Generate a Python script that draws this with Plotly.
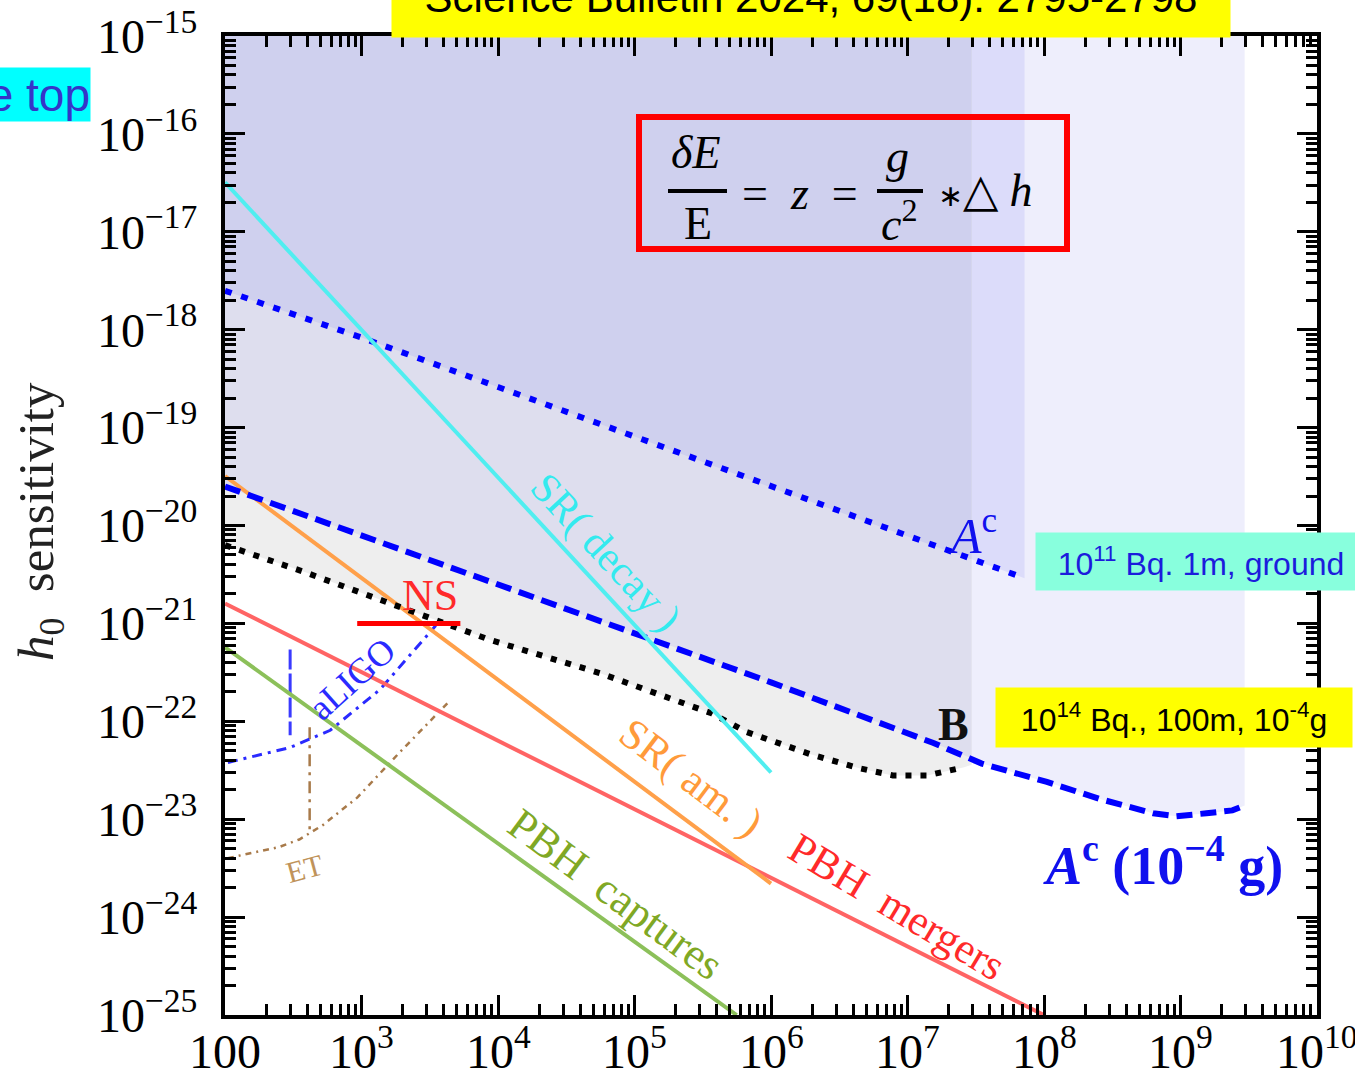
import plotly.graph_objects as go

# ---------------- data (frequency in Hz, strain h0) ----------------
sr_decay_f = [1e2, 1e6]
sr_decay_h = [3.2e-17, 3.0e-23]

sr_amp_f = [1e2, 1e6]
sr_amp_h = [3.2e-20, 2.2e-24]

pbh_merg_f = [1e2, 1e8]
pbh_merg_h = [1.6e-21, 1.0e-25]

pbh_capt_f = [1e2, 5.6e5]
pbh_capt_h = [5.7e-22, 1.0e-25]

ac_f = [1e2, 1e3, 1e4, 1e5, 1e6, 1e7, 7.2e7]
ac_h = [2.5e-18, 8.3e-19, 2.6e-19, 8.1e-20, 2.45e-20, 7.8e-21, 2.9e-21]

ac4_f = [1e2, 1e3, 5.1e3, 1e5, 2.6e5, 1e6, 1.55e7, 3.5e7, 1.05e8, 2.6e8, 6.3e8, 9.3e8, 1.55e9, 2.4e9, 2.95e9]
ac4_h = [2.5e-20, 7.9e-21, 3.5e-21, 7.9e-22, 5.0e-22, 2.5e-22, 6.0e-23, 3.7e-23, 2.4e-23, 1.6e-23, 1.15e-23, 1.07e-23, 1.15e-23, 1.23e-23, 1.38e-23]

b_f = [1e2, 3.7e2, 8.7e3, 5.6e4, 3.7e5, 6.6e5, 1.95e6, 4.5e6, 7.8e6, 1.4e7, 2.6e7]
b_h = [6.3e-21, 3.4e-21, 6.8e-22, 3.1e-22, 1.2e-22, 7.8e-23, 4.6e-23, 3.3e-23, 2.8e-23, 2.8e-23, 3.4e-23]

ns_f = [9.3e2, 5.3e3]
ns_h = [1.0e-21, 1.0e-21]

aligo_f = [1.05e2, 3.0e2, 5.9e2, 1.36e3, 3.5e3]
aligo_h = [3.8e-23, 5.4e-23, 8.1e-23, 2.1e-22, 9.5e-22]
aligo_wall_f = [3.0e2, 3.0e2]
aligo_wall_h = [5.4e-22, 7.2e-23]

et_f = [1.05e2, 2.5e2, 3.5e2, 5.2e2, 9.3e2, 1.9e3, 4.3e3]
et_h = [4.0e-24, 5.2e-24, 6.2e-24, 8.7e-24, 1.66e-23, 4.8e-23, 1.55e-22]
et_wall_f = [4.17e2, 4.17e2]
et_wall_h = [8.7e-23, 7.8e-24]

# shading edge (where the darker bands stop) and boundary values there
shade_edge_f = 2.95e7
ac4_at_edge = 4.2e-23
ac_at_edge = 4.5e-21
b_at_edge = 3.6e-23

x_exps = list(range(2, 11))
x_ticktext = ["100", "10<sup>3</sup>", "10<sup>4</sup>", "10<sup>5</sup>", "10<sup>6</sup>",
              "10<sup>7</sup>", "10<sup>8</sup>", "10<sup>9</sup>", "10<sup>10</sup>"]
y_exps = list(range(-25, -14))
y_ticks = [10.0 ** e for e in y_exps]
y_ticktext = ["10<sup>\u2212%d</sup>" % (-e) for e in y_exps]

TOP = 1e-15

# ---------------- figure ----------------
W, H = 1355, 1074
L, R, T, B = 225, 38, 36, 59
PW, PH = W - L - R, H - T - B


def px(xp):
    return (xp - L) / PW


def py(yp):
    return (H - B - yp) / PH


fig = go.Figure()


def region(fx, hy, color):
    xs = list(fx) + [fx[-1], fx[0]]
    ys = list(hy) + [TOP, TOP]
    fig.add_trace(go.Scatter(x=xs, y=ys, fill="toself", fillcolor=color, mode="lines",
                             line=dict(width=0, color=color), hoverinfo="skip", showlegend=False))


def trunc(fx, hy, edge_f, edge_h):
    xs = [f for f in fx if f < edge_f] + [edge_f]
    ys = [h for f, h in zip(fx, hy) if f < edge_f] + [edge_h]
    return xs, ys


region(ac4_f, ac4_h, "#eeeefc")
region(ac_f, ac_h, "#dcdcfa")
xs, ys = trunc(b_f, b_h, shade_edge_f, b_at_edge)
region(xs, ys, "#eeeeee")
xs, ys = trunc(ac4_f, ac4_h, shade_edge_f, ac4_at_edge)
region(xs, ys, "#dedeee")
xs, ys = trunc(ac_f, ac_h, shade_edge_f, ac_at_edge)
region(xs, ys, "#cfd0ee")


def line(fx, hy, color, width, dash="solid"):
    fig.add_trace(go.Scatter(x=fx, y=hy, mode="lines", line=dict(color=color, width=width, dash=dash),
                             hoverinfo="skip", showlegend=False))


line(et_f, et_h, "#a87a4a", 2.5, "6px,5px,2px,5px")
line(et_wall_f, et_wall_h, "#a87a4a", 2.5, "12px,6px,3px,6px")
line(aligo_f, aligo_h, "#2a2aff", 3, "10px,6px,3px,6px")
line(aligo_wall_f, aligo_wall_h, "#3a3aff", 3, "20px,4px")
line(pbh_capt_f, pbh_capt_h, "#8cc05a", 4)
line(pbh_merg_f, pbh_merg_h, "#ff6464", 4)
line(sr_amp_f, sr_amp_h, "#ffa04a", 4)
line(b_f, b_h, "#000000", 6, "6px,9px")
line(ac4_f, ac4_h, "#0000ff", 6, "16px,8px")
line(ac_f, ac_h, "#0000ff", 6, "7px,10px")
line(sr_decay_f, sr_decay_h, "#50eef0", 4)
line(ns_f, ns_h, "#ff0000", 5)

SERIF = "Liberation Serif"
SANS = "Liberation Sans"
ann = []


def text(xp, yp, t, size, color, angle=0, family=SERIF, **kw):
    d = dict(x=px(xp), y=py(yp), xref="paper", yref="paper", text=t, showarrow=False,
             textangle=angle, font=dict(family=family, size=size, color=color),
             xanchor="center", yanchor="middle")
    d.update(kw)
    ann.append(d)


# x tick labels (drawn as annotations so the last one is not hidden)
for e, lab in zip(x_exps, x_ticktext):
    ann.append(dict(x=e, y=py(1080), xref="x", yref="paper", text=lab, showarrow=False,
                    font=dict(family=SERIF, size=48, color="#000000"),
                    xanchor="center", yanchor="bottom"))

# curve labels
text(606, 552, "SR( decay )", 42, "#33eaee", 47)
text(691, 778, "SR( am. )", 43, "#ff9a3a", 37)
text(897, 906, "PBH  mergers", 43, "#ff2a2a", 31)
text(616, 894, "PBH  captures", 44, "#7fa825", 36.5)
text(430, 595, "NS", 44, "#ff2a2a")
text(352, 679, "aLIGO", 36, "#2a2aff", -42)
text(304, 868, "ET", 30, "#c0935a", -15)
text(972, 532, "<i>A</i><sup>c</sup>", 50, "#1010ee")
text(953, 724, "<b>B</b>", 46, "#111111")
text(1163, 861, "<b><i>A</i><sup>c</sup> (10<sup>\u22124</sup> g)</b>", 54, "#1010ee")

# y axis title
text(40, 522, "<i>h</i><sub>0</sub>  sensitivity", 51, "#222222", -90)

# equation
text(695, 153, "<i>\u03b4E</i>", 46, "#000000")
text(698, 223, "E", 46, "#000000")
text(800, 193, "=  <i>z</i>  =", 46, "#000000")
text(897, 157, "<i>g</i>", 46, "#000000")
text(899, 221, "<i>c</i><sup>2</sup>", 46, "#000000")
text(985, 191, "<span style='font-size:30px'>\u2217</span>\u25b3 <i>h</i>", 46, "#000000")

# coloured boxes
text(811, -3, "Science Bulletin 2024, 69(18): 2795-2798", 42, "#000000", family=SANS,
     bgcolor="#ffff00", width=838, height=80, borderpad=0)
text(1201, 561.5, "10<sup>11</sup> Bq. 1m, ground", 32, "#1c1cdc", family=SANS,
     bgcolor="#88ffdd", width=330, height=57, borderpad=0)
text(1174, 717.5, "10<sup>14</sup> Bq., 100m, 10<sup>-4</sup>g", 32, "#000000", family=SANS,
     bgcolor="#ffff00", width=356, height=59, borderpad=0)
ann.append(dict(x=px(91), y=py(94.5), xref="paper", yref="paper", text="the top", showarrow=False,
                font=dict(family=SANS, size=46, color="#3535c8"), xanchor="right", yanchor="middle",
                bgcolor="#00ffff", width=220, height=53, borderpad=0, align="right"))

shapes = [
    dict(type="rect", xref="paper", yref="paper", x0=px(639), x1=px(1067), y0=py(249), y1=py(117),
         line=dict(color="#ff0000", width=6)),
    dict(type="line", xref="paper", yref="paper", x0=px(668), x1=px(727), y0=py(191), y1=py(191),
         line=dict(color="#000000", width=4)),
    dict(type="line", xref="paper", yref="paper", x0=px(877), x1=px(923), y0=py(191), y1=py(191),
         line=dict(color="#000000", width=4)),
]

x_major = [10.0 ** e for e in x_exps]
x_minor = [m * 10.0 ** d for d in range(2, 10) for m in range(2, 10)]
y_minor = [m * 10.0 ** d for d in range(-25, -15) for m in range(2, 10)]

axis_common = dict(showline=True, linecolor="black", linewidth=4, mirror="allticks",
                   ticks="inside", ticklen=20, tickwidth=3, tickcolor="black",
                   showgrid=False, zeroline=False, tickmode="array", automargin=False,
                   tickfont=dict(family=SERIF, size=48, color="#000000"))

EPS = 1e-6
fig.update_layout(
    width=W, height=H, margin=dict(l=L, r=R, t=T, b=B, pad=0, autoexpand=False),
    paper_bgcolor="white", plot_bgcolor="white",
    xaxis=dict(type="log", range=[2 - EPS, 10 + EPS], tickvals=x_major, showticklabels=False,
               minor=dict(tickmode="array", tickvals=x_minor, ticks="inside", ticklen=11,
                          tickwidth=2.5, tickcolor="black", showgrid=False),
               **axis_common),
    yaxis=dict(type="log", range=[-25 - EPS, -15 + EPS], tickvals=y_ticks, ticktext=y_ticktext,
               minor=dict(tickmode="array", tickvals=y_minor, ticks="inside", ticklen=11,
                          tickwidth=2.5, tickcolor="black", showgrid=False),
               ticklabelstandoff=14, **axis_common),
    annotations=ann, shapes=shapes, showlegend=False,
)

fig.write_html("out.html")
